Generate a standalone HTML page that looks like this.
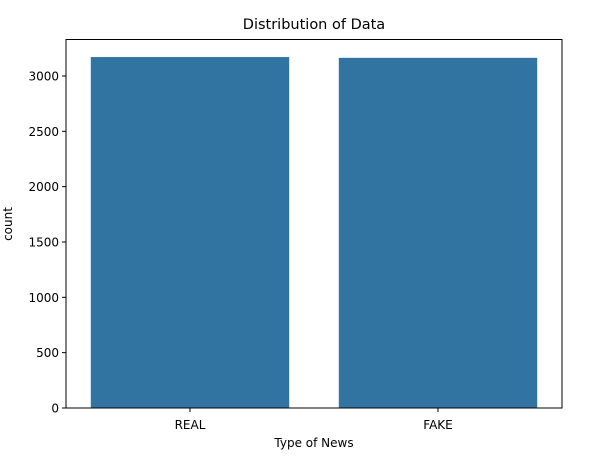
<!DOCTYPE html>
<html><head><meta charset="utf-8"><style>
body{margin:0;background:#fff;}
svg text{font-family:"DejaVu Sans","Liberation Sans",sans-serif;fill:#000;}
</style></head><body>
<svg id="chart" width="593" height="457" xmlns="http://www.w3.org/2000/svg">
<rect width="593" height="457" fill="#fff"/>
<text x="314" y="29" font-size="14.5" text-anchor="middle">Distribution of Data</text>
<g id="plot"></g>
<rect x="66" y="39.5" width="496" height="368.5" fill="none" stroke="#000" stroke-width="1"/>
<text x="314" y="447" font-size="12" text-anchor="middle">Type of News</text>
<text transform="translate(12,224) rotate(-90)" font-size="12" text-anchor="middle">count</text>
</svg>
<script>
const categories = ["REAL", "FAKE"];
const counts = [3171, 3164];
const yTicks = [0, 500, 1000, 1500, 2000, 2500, 3000];

const L = 66, R = 562, T = 39.5, B = 408;
const yMax = Math.max(...counts) * 1.05;
const ns = "http://www.w3.org/2000/svg";
const g = document.getElementById('plot');
const step = (R - L) / categories.length;
const xc = i => L + step * (i + 0.5);
const y = v => B - (v / yMax) * (B - T);

categories.forEach((c, i) => {
  const bw = step * 0.8;
  const r = document.createElementNS(ns, 'rect');
  r.setAttribute('x', xc(i) - bw / 2);
  r.setAttribute('y', y(counts[i]));
  r.setAttribute('width', bw);
  r.setAttribute('height', B - y(counts[i]));
  r.setAttribute('fill', '#3274a1');
  
  
  g.appendChild(r);
  const tk = document.createElementNS(ns, 'line');
  tk.setAttribute('x1', xc(i)); tk.setAttribute('x2', xc(i));
  tk.setAttribute('y1', B); tk.setAttribute('y2', B + 4);
  tk.setAttribute('stroke', '#000');
  
  
  g.appendChild(tk);
  const t = document.createElementNS(ns, 'text');
  t.setAttribute('x', xc(i)); t.setAttribute('y', B + 21);
  t.setAttribute('font-size', '12'); t.setAttribute('text-anchor', 'middle');
  t.textContent = c;
  
  
  g.appendChild(t);
});

yTicks.forEach(v => {
  const tk = document.createElementNS(ns, 'line');
  tk.setAttribute('x1', L - 4); tk.setAttribute('x2', L);
  tk.setAttribute('y1', y(v)); tk.setAttribute('y2', y(v));
  tk.setAttribute('stroke', '#000');
  
  
  g.appendChild(tk);
  const t = document.createElementNS(ns, 'text');
  t.setAttribute('x', L - 7); t.setAttribute('y', y(v) + 4.5);
  t.setAttribute('font-size', '12'); t.setAttribute('text-anchor', 'end');
  t.textContent = v;
  
  
  g.appendChild(t);
});
</script>
</body></html>
